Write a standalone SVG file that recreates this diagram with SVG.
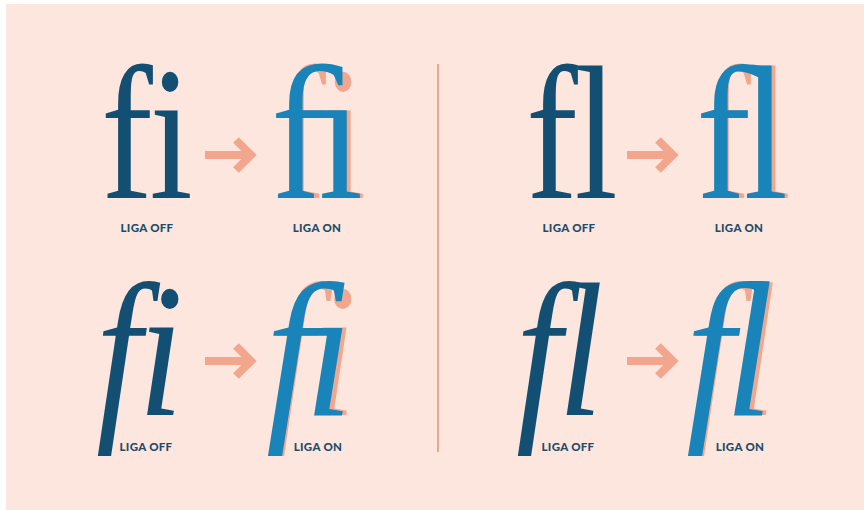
<svg xmlns="http://www.w3.org/2000/svg" width="864" height="510" viewBox="0 0 864 510">
<style>
.glyph{font-family:"Liberation Serif","DejaVu Serif",serif;font-size:190px}
.it{font-style:italic}
.off{font-variant-ligatures:none;font-feature-settings:"liga" 0;letter-spacing:-4px}
.on{font-variant-ligatures:common-ligatures}
.dark{fill:#124f73}
.light{fill:#1884b9}
.pink{fill:#f2a68d}
.lbl{font-family:"Lato","Open Sans","Liberation Sans",sans-serif;font-weight:900;font-size:11.5px;fill:#1d4c6b;text-anchor:middle;letter-spacing:0.3px}
.arrow{fill:none;stroke:#f2a68d;stroke-width:8}
</style>
<rect x="0" y="0" width="864" height="510" fill="#ffffff"/>
<rect x="6" y="4" width="858" height="506" fill="#fde6dd"/>
<line x1="438" y1="64" x2="438" y2="452" stroke="#e9a792" stroke-width="2"/>
<g id="connectors">
<g class="arrow"><path d="M205,155 H250"/><path d="M236,140 L251,155 L236,170"/></g>
<g class="arrow"><path d="M627,155 H672"/><path d="M658,140 L673,155 L658,170"/></g>
<g class="arrow"><path d="M205,361 H250"/><path d="M236,346 L251,361 L236,376"/></g>
<g class="arrow"><path d="M627,361 H672"/><path d="M658,346 L673,361 L658,376"/></g>
</g>
<g id="fi-upright-off">
<text class="glyph off dark" transform="translate(101,198) scale(0.82,1)">fi</text>
<text class="lbl" x="147" y="232">LIGA OFF</text>
</g>
<g id="fi-upright-on">
<text class="glyph off pink" transform="translate(274,198) scale(0.82,1)">fi</text>
<text class="glyph on light" transform="translate(271,198) scale(0.87,1)">ﬁ</text>
<text class="lbl" x="317" y="232">LIGA ON</text>
</g>
<g id="fl-upright-off">
<text class="glyph off dark" transform="translate(526,198) scale(0.82,1)">fl</text>
<text class="lbl" x="569" y="232">LIGA OFF</text>
</g>
<g id="fl-upright-on">
<text class="glyph off pink" transform="translate(699,198) scale(0.82,1)">fl</text>
<text class="glyph on light" transform="translate(696,198) scale(0.87,1)">ﬂ</text>
<text class="lbl" x="739" y="232">LIGA ON</text>
</g>
<g id="fi-italic-off">
<text class="glyph it off dark" transform="translate(96,415) scale(0.86,1)">fi</text>
<text class="lbl" x="146" y="451">LIGA OFF</text>
</g>
<g id="fi-italic-on">
<text class="glyph it off pink" transform="translate(269,415) scale(0.86,1)">fi</text>
<text class="glyph it on light" transform="translate(266,415) scale(0.92,1)">ﬁ</text>
<text class="lbl" x="318" y="451">LIGA ON</text>
</g>
<g id="fl-italic-off">
<text class="glyph it off dark" transform="translate(516,415) scale(0.86,1)">fl</text>
<text class="lbl" x="568" y="451">LIGA OFF</text>
</g>
<g id="fl-italic-on">
<text class="glyph it off pink" transform="translate(689,415) scale(0.86,1)">fl</text>
<text class="glyph it on light" transform="translate(686,415) scale(0.92,1)">ﬂ</text>
<text class="lbl" x="740" y="451">LIGA ON</text>
</g>
</svg>
